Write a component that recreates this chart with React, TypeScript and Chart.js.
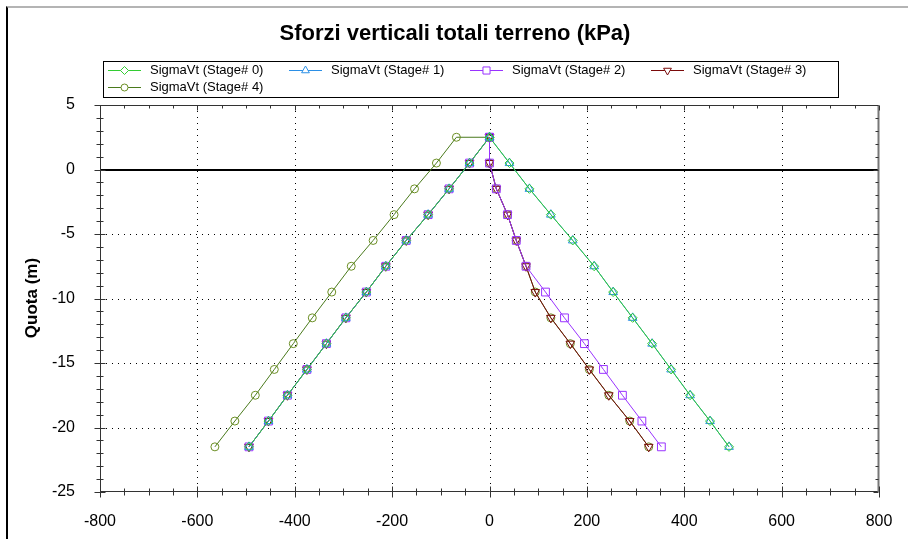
import React, { useEffect, useRef } from 'react';
import { Chart, registerables } from 'chart.js';
import { drawPoint } from 'chart.js/helpers';

Chart.register(...registerables);

// ---- DATA ----
const quota = [2.5, 0.5, -1.5, -3.5, -5.5, -7.5, -9.5, -11.5, -13.5, -15.5, -17.5, -19.5, -21.5];

const stage0Left = [0, -41, -83, -126, -171, -213, -253, -295, -335, -375, -415, -454, -494];
const stage0Right = [0, 41, 82, 126, 171, 215, 254, 294, 334, 373, 412, 453, 492];
const stage1Left = [0, -41, -83, -126, -171, -213, -253, -295, -335, -375, -415, -454, -494];
const stage1Right = [0, 41, 82, 126, 171, 215, 254, 294, 334, 373, 412, 453, 492];
const stage2Left = [0, -41, -83, -126, -171, -213, -253, -295, -335, -375, -415, -454, -494];
const stage2Right = [0, 0, 14, 37, 55, 75, 115, 154, 195, 234, 273, 313, 353];
const stage3Left = [0, -41, -83, -126, -171, -213, -253, -295, -335, -375, -415, -454, -494];
const stage3Right = [0, 0, 14, 37, 55, 75, 94, 126, 166, 205, 245, 288, 327];
const stage4Left = [-68, -109, -154, -196, -239, -284, -324, -364, -403, -442, -481, -523, -564];
const stage4Right = [0, 0, 14, 37, 55, 75, 94, 126, 166, 205, 245, 288, 327];

const seriesLabels = [
  'SigmaVt (Stage# 0)',
  'SigmaVt (Stage# 1)',
  'SigmaVt (Stage# 2)',
  'SigmaVt (Stage# 3)',
  'SigmaVt (Stage# 4)',
];

const chartTitle = 'Sforzi verticali totali terreno (kPa)';
const yTitle = 'Quota (m)';

const xMin = -800;
const xMax = 800;
const xMajor = 200;
const xMinor = 50;
const yMin = -25;
const yMax = 5;
const yMajor = 5;
const yMinor = 1;

// ---- STYLES ----
const FONT = "'Liberation Sans', Arial, sans-serif";
const lineColors = ['#33cc33', '#2b8fe6', '#9933ff', '#7a0a0a', '#4a7a1c'];
const markerColors = ['#33cc33', '#2b8fe6', '#9933ff', '#7a0a0a', '#6b8e23'];
const pointStyles = ['rectRot', 'triangle', 'rect', 'triangle', 'circle'];
const pointRotations = [0, 0, 0, 180, 0];
const pointRadii = [4.5, 5, 5.5, 5, 4];

function buildBranch(left: number[], right: number[]) {
  const pts: { x: number; y: number }[] = [];
  for (let i = left.length - 1; i >= 0; i--) pts.push({ x: left[i], y: quota[i] });
  for (let i = 0; i < right.length; i++) pts.push({ x: right[i], y: quota[i] });
  return pts;
}

const stageData = [
  buildBranch(stage0Left, stage0Right),
  buildBranch(stage1Left, stage1Right),
  buildBranch(stage2Left, stage2Right),
  buildBranch(stage3Left, stage3Right),
  buildBranch(stage4Left, stage4Right),
];

const decorPlugin = {
  id: 'decor',
  beforeDatasetsDraw(chart: any) {
    const { ctx, chartArea } = chart;
    const xs = chart.scales.x;
    const ys = chart.scales.y;
    ctx.save();
    // dotted grid
    ctx.strokeStyle = '#000';
    ctx.lineWidth = 1;
    ctx.setLineDash([1, 5]);
    for (let v = xMin + xMajor; v < xMax; v += xMajor) {
      const px = Math.round(xs.getPixelForValue(v)) + 0.5;
      ctx.beginPath();
      ctx.moveTo(px, chartArea.top);
      ctx.lineTo(px, chartArea.bottom);
      ctx.stroke();
    }
    for (let v = yMin + yMajor; v < yMax; v += yMajor) {
      if (v === 0) continue;
      const py = Math.round(ys.getPixelForValue(v)) + 0.5;
      ctx.beginPath();
      ctx.moveTo(chartArea.left, py);
      ctx.lineTo(chartArea.right, py);
      ctx.stroke();
    }
    ctx.setLineDash([]);
    // zero line
    const y0 = Math.round(ys.getPixelForValue(0));
    ctx.lineWidth = 2;
    ctx.beginPath();
    ctx.moveTo(chartArea.left, y0);
    ctx.lineTo(chartArea.right, y0);
    ctx.stroke();
    ctx.restore();
  },
  afterDatasetsDraw(chart: any) {
    const { ctx, chartArea } = chart;
    const xs = chart.scales.x;
    const ys = chart.scales.y;
    const L = chartArea.left + 0.5;
    const R = chartArea.right - 0.5;
    const T = chartArea.top + 0.5;
    const B = chartArea.bottom - 0.5;
    ctx.save();
    ctx.lineWidth = 1;
    // frame
    ctx.strokeStyle = '#333';
    ctx.beginPath();
    ctx.moveTo(L, T);
    ctx.lineTo(R, T);
    ctx.moveTo(L, T);
    ctx.lineTo(L, B);
    ctx.lineTo(R, B);
    ctx.stroke();
    ctx.strokeStyle = '#777';
    ctx.lineWidth = 2;
    ctx.beginPath();
    ctx.moveTo(R, T);
    ctx.lineTo(R, B + 0.5);
    ctx.stroke();
    ctx.lineWidth = 1;
    ctx.strokeStyle = '#333';
    // x ticks
    for (let v = xMin; v <= xMax; v += xMinor) {
      const major = v % xMajor === 0;
      const px = Math.round(xs.getPixelForValue(v)) + 0.5;
      ctx.beginPath();
      ctx.moveTo(px, B - (major ? 5 : 3));
      ctx.lineTo(px, B + (major ? 6 : 4));
      ctx.moveTo(px, T);
      ctx.lineTo(px, T + (major ? 5 : 3));
      ctx.stroke();
    }
    // y ticks
    for (let v = yMin; v <= yMax; v += yMinor) {
      const major = v % yMajor === 0;
      const py = Math.round(ys.getPixelForValue(v)) + 0.5;
      ctx.beginPath();
      ctx.moveTo(L - (major ? 6 : 4), py);
      ctx.lineTo(L + (major ? 5 : 3), py);
      ctx.moveTo(R, py);
      ctx.lineTo(R - (major ? 5 : 3), py);
      ctx.stroke();
    }
    ctx.restore();
  },
  afterDraw(chart: any) {
    const { ctx } = chart;
    ctx.save();
    // title
    ctx.fillStyle = '#000';
    ctx.font = `bold 22px ${FONT}`;
    ctx.textAlign = 'center';
    ctx.textBaseline = 'middle';
    ctx.fillText(chartTitle, 455, 34);
    // y title
    ctx.save();
    ctx.translate(32, 298);
    ctx.rotate(-Math.PI / 2);
    ctx.font = `bold 17px ${FONT}`;
    ctx.fillText(yTitle, 0, 0);
    ctx.restore();
    // legend box
    ctx.strokeStyle = '#000';
    ctx.lineWidth = 1;
    ctx.strokeRect(103.5, 61.5, 735, 36);
    ctx.font = `13px ${FONT}`;
    ctx.textAlign = 'left';
    ctx.textBaseline = 'middle';
    for (let i = 0; i < seriesLabels.length; i++) {
      const col = i % 4;
      const row = Math.floor(i / 4);
      const x0 = 108 + col * 181;
      const yy = 70.5 + row * 17;
      ctx.strokeStyle = lineColors[i];
      ctx.lineWidth = 1;
      ctx.beginPath();
      ctx.moveTo(x0, yy);
      ctx.lineTo(x0 + 33, yy);
      ctx.stroke();
      ctx.strokeStyle = markerColors[i];
      ctx.fillStyle = '#fff';
      drawPoint(ctx, {
        pointStyle: pointStyles[i],
        rotation: pointRotations[i],
        radius: pointRadii[i] - 0.5,
        borderWidth: 1,
      } as any, x0 + 16.5, yy);
      ctx.fillStyle = '#000';
      ctx.fillText(seriesLabels[i], x0 + 42, yy);
    }
    ctx.restore();
  },
};

export default function App() {
  const canvasRef = useRef<HTMLCanvasElement | null>(null);

  useEffect(() => {
    if (!canvasRef.current) return;
    const chart = new Chart(canvasRef.current, {
      type: 'scatter',
      data: {
        datasets: stageData.map((d, i) => ({
          label: seriesLabels[i],
          data: d,
          showLine: true,
          borderColor: lineColors[i],
          borderWidth: 1,
          backgroundColor: 'rgba(0,0,0,0)',
          pointStyle: pointStyles[i] as any,
          pointRotation: pointRotations[i],
          pointRadius: pointRadii[i],
          pointBorderColor: markerColors[i],
          pointBackgroundColor: 'rgba(255,255,255,0)',
          pointBorderWidth: 1,
          pointHoverRadius: pointRadii[i],
        })),
      },
      options: {
        animation: false,
        responsive: false,
        devicePixelRatio: 1,
        events: [],
        layout: { padding: { top: 105, left: 0, right: 29, bottom: 0 } },
        plugins: {
          legend: { display: false },
          title: { display: false },
          tooltip: { enabled: false },
        },
        scales: {
          x: {
            type: 'linear',
            min: xMin,
            max: xMax,
            grid: { display: false },
            border: { display: false },
            ticks: {
              stepSize: xMajor,
              color: '#000',
              font: { family: FONT, size: 16 },
              padding: 12,
              maxRotation: 0,
              autoSkip: false,
            },
            afterFit: (s: any) => {
              s.height = 47;
            },
          },
          y: {
            type: 'linear',
            min: yMin,
            max: yMax,
            grid: { display: false },
            border: { display: false },
            ticks: {
              stepSize: yMajor,
              color: '#000',
              font: { family: FONT, size: 16 },
              padding: 17,
              autoSkip: false,
            },
            afterFit: (s: any) => {
              s.width = 100;
            },
          },
        },
      },
      plugins: [decorPlugin],
    });
    return () => chart.destroy();
  }, []);

  return (
    <div style={{ position: 'fixed', left: 0, top: 0, width: 908, height: 539, background: '#fff', overflow: 'hidden' }}>
      <div
        style={{
          position: 'absolute',
          left: 6,
          top: 6,
          right: 0,
          bottom: 0,
          borderTop: '2px solid #b4b4b4',
          borderLeft: '2px solid #000',
        }}
      />
      <canvas
        ref={canvasRef}
        width={908}
        height={539}
        style={{ position: 'absolute', left: 0, top: 0, width: 908, height: 539, display: 'block' }}
      />
    </div>
  );
}
